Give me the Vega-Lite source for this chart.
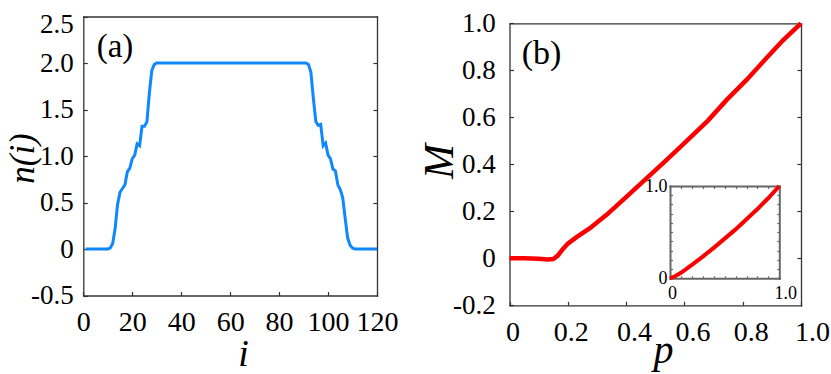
{
  "$schema": "https://vega.github.io/schema/vega-lite/v6.json",
  "width": 831,
  "height": 374,
  "autosize": {"type": "none"},
  "padding": 0,
  "background": "white",
  "config": {
    "view": {"stroke": null},
    "axis": {
      "grid": false,
      "labelFont": "'Liberation Serif', 'DejaVu Serif', serif",
      "titleFont": "'Liberation Serif', 'DejaVu Serif', serif",
      "labelColor": "#000",
      "titleColor": "#000",
      "titleFontWeight": "normal",
      "domainColor": "#333",
      "domainWidth": 1.3,
      "domainCap": "square",
      "tickColor": "#333",
      "tickWidth": 1.2,
      "labelFlush": false,
      "labelOverlap": false,
      "labelBound": false
    }
  },
  "datasets": {
    "dens": [
      {"i": 1, "n": 0}, {"i": 10, "n": 0}, {"i": 11, "n": 0.01}, {"i": 12, "n": 0.06},
      {"i": 13, "n": 0.22}, {"i": 14, "n": 0.48}, {"i": 15, "n": 0.61}, {"i": 16, "n": 0.65},
      {"i": 17, "n": 0.69}, {"i": 18, "n": 0.83}, {"i": 19, "n": 0.87}, {"i": 20, "n": 0.97},
      {"i": 21, "n": 1.01}, {"i": 22, "n": 1.13}, {"i": 23, "n": 1.11}, {"i": 24, "n": 1.32},
      {"i": 25, "n": 1.32}, {"i": 26, "n": 1.37}, {"i": 27, "n": 1.68}, {"i": 28, "n": 1.92},
      {"i": 29, "n": 1.985}, {"i": 30, "n": 2.0}, {"i": 91, "n": 2.0}, {"i": 92, "n": 1.985},
      {"i": 93, "n": 1.9}, {"i": 94, "n": 1.62}, {"i": 95, "n": 1.37}, {"i": 96, "n": 1.33},
      {"i": 97, "n": 1.34}, {"i": 98, "n": 1.11}, {"i": 99, "n": 1.14}, {"i": 100, "n": 1.01},
      {"i": 101, "n": 0.97}, {"i": 102, "n": 0.86}, {"i": 103, "n": 0.84}, {"i": 104, "n": 0.69},
      {"i": 105, "n": 0.64}, {"i": 106, "n": 0.55}, {"i": 107, "n": 0.33}, {"i": 108, "n": 0.12},
      {"i": 109, "n": 0.04}, {"i": 110, "n": 0.01}, {"i": 111, "n": 0}, {"i": 120, "n": 0}
    ],
    "mag": [
      {"p": 0, "M": 0}, {"p": 0.05, "M": 0}, {"p": 0.1, "M": -0.002}, {"p": 0.13, "M": -0.005},
      {"p": 0.15, "M": -0.003}, {"p": 0.165, "M": 0.01}, {"p": 0.18, "M": 0.035}, {"p": 0.2, "M": 0.062},
      {"p": 0.23, "M": 0.09}, {"p": 0.276, "M": 0.128}, {"p": 0.3, "M": 0.152}, {"p": 0.333, "M": 0.185},
      {"p": 0.4, "M": 0.26}, {"p": 0.47, "M": 0.34}, {"p": 0.54, "M": 0.42}, {"p": 0.6, "M": 0.49},
      {"p": 0.68, "M": 0.585}, {"p": 0.745, "M": 0.674}, {"p": 0.814, "M": 0.76}, {"p": 0.88, "M": 0.85},
      {"p": 0.94, "M": 0.93}, {"p": 1.0, "M": 1.0}
    ],
    "ins": [
      {"p": 0, "M": 0}, {"p": 0.05, "M": 0.025}, {"p": 0.1, "M": 0.06}, {"p": 0.2, "M": 0.145},
      {"p": 0.3, "M": 0.235}, {"p": 0.4, "M": 0.33}, {"p": 0.5, "M": 0.43}, {"p": 0.6, "M": 0.53},
      {"p": 0.7, "M": 0.64}, {"p": 0.8, "M": 0.75}, {"p": 0.9, "M": 0.87}, {"p": 1.0, "M": 1.0}
    ],
    "labA": [{"x": 12.95, "y": 2.06, "label": "(a)"}],
    "labB": [{"x": 0.11, "y": 0.827, "label": "(b)"}]
  },
  "resolve": {
    "scale": {"x": "independent", "y": "independent"},
    "axis": {"x": "independent", "y": "independent"}
  },
  "layer": [
    {
      "data": {"name": "dens"},
      "mark": {"type": "line", "color": "#0f87ff", "strokeWidth": 3},
      "encoding": {
        "x": {
          "field": "i", "type": "quantitative",
          "scale": {"domain": [0, 120], "range": [83.3, 377], "nice": false, "zero": false},
          "axis": {
            "orient": "bottom", "offset": -78.5, "values": [0, 20, 40, 60, 80, 100, 120],
            "tickSize": -4, "labelFontSize": 28, "labelBaseline": "alphabetic", "labelPadding": 38.5,
            "title": "i", "titleFontSize": 38, "titleFontStyle": "italic", "titleX": 243, "titleY": 69.5,
            "titleAlign": "center", "titleBaseline": "alphabetic", "titleAngle": 0
          }
        },
        "y": {
          "field": "n", "type": "quantitative",
          "scale": {"domain": [-0.5, 2.5], "range": [295.5, 16.5], "nice": false, "zero": false},
          "axis": {
            "orient": "left", "offset": -83.3, "values": [-0.5, 0, 0.5, 1, 1.5, 2, 2.5],
            "tickSize": -4, "labelFontSize": 27, "labelAlign": "right", "labelBaseline": "middle", "labelPadding": 14,
            "labelExpr": "datum.value == 0 ? '0' : (datum.value < 0 ? '-' + format(-datum.value, '.1f') : format(datum.value, '.1f'))",
            "labelOffset": {"condition": {"test": "datum.value == 2.5", "value": 8}, "value": 0},
            "title": "n(i)", "titleFontSize": 35, "titleFontStyle": "italic", "titleAngle": -90,
            "titleX": -50.3, "titleY": 158, "titleAlign": "center", "titleBaseline": "alphabetic"
          }
        }
      }
    },
    {
      "data": {"name": "labA"},
      "mark": {"type": "text", "font": "'Liberation Serif', 'DejaVu Serif', serif", "fontSize": 33, "align": "center", "baseline": "alphabetic", "color": "#000"},
      "encoding": {
        "x": {
          "field": "x", "type": "quantitative",
          "scale": {"domain": [0, 120], "range": [83.3, 377], "nice": false, "zero": false},
          "axis": {"orient": "top", "offset": -16.5, "ticks": false, "labels": false, "title": null}
        },
        "y": {
          "field": "y", "type": "quantitative",
          "scale": {"domain": [-0.5, 2.5], "range": [295.5, 16.5], "nice": false, "zero": false},
          "axis": {"orient": "right", "offset": -454, "values": [0, 0.5, 1, 1.5, 2], "tickSize": -4, "labels": false, "title": null}
        },
        "text": {"field": "label"}
      }
    },
    {
      "data": {"name": "mag"},
      "mark": {"type": "line", "color": "#fa0000", "strokeWidth": 4.5},
      "encoding": {
        "x": {
          "field": "p", "type": "quantitative",
          "scale": {"domain": [0, 1], "range": [509.5, 801], "nice": false, "zero": false},
          "axis": {
            "orient": "bottom", "offset": -68.7, "values": [0, 0.2, 0.4, 0.6, 0.8, 1],
            "tickSize": -4, "labelFontSize": 28, "labelBaseline": "alphabetic", "labelPadding": 38.7,
            "labelExpr": "datum.value == 0 ? '0' : format(datum.value, '.1f')",
            "labelOffset": {"condition": [{"test": "datum.value == 1", "value": 11}, {"test": "datum.value < 0.3", "value": 3}], "value": 8},
            "title": "p", "titleFontSize": 40, "titleFontStyle": "italic", "titleX": 663, "titleY": 57.2,
            "titleAlign": "center", "titleBaseline": "alphabetic", "titleAngle": 0
          }
        },
        "y": {
          "field": "M", "type": "quantitative",
          "scale": {"domain": [-0.2, 1], "range": [305.3, 23.3], "nice": false, "zero": false},
          "axis": {
            "orient": "left", "offset": -509.5, "values": [-0.2, 0, 0.2, 0.4, 0.6, 0.8, 1],
            "tickSize": -4, "labelFontSize": 27, "labelAlign": "right", "labelBaseline": "middle", "labelPadding": 18.3,
            "labelExpr": "datum.value == 0 ? '0' : (datum.value < 0 ? '-' + format(-datum.value, '.1f') : format(datum.value, '.1f'))",
            "title": "M", "titleFontSize": 42, "titleFontStyle": "italic", "titleAngle": -90,
            "titleX": -57.5, "titleY": 161, "titleAlign": "center", "titleBaseline": "alphabetic"
          }
        }
      }
    },
    {
      "data": {"name": "labB"},
      "mark": {"type": "text", "font": "'Liberation Serif', 'DejaVu Serif', serif", "fontSize": 34, "align": "center", "baseline": "alphabetic", "color": "#000"},
      "encoding": {
        "x": {
          "field": "x", "type": "quantitative",
          "scale": {"domain": [0, 1], "range": [509.5, 801], "nice": false, "zero": false},
          "axis": {"orient": "top", "offset": -23.3, "ticks": false, "labels": false, "title": null}
        },
        "y": {
          "field": "y", "type": "quantitative",
          "scale": {"domain": [-0.2, 1], "range": [305.3, 23.3], "nice": false, "zero": false},
          "axis": {"orient": "right", "offset": -30, "values": [0, 0.2, 0.4, 0.6, 0.8], "tickSize": -4, "labels": false, "title": null}
        },
        "text": {"field": "label"}
      }
    },
    {
      "data": {"name": "ins"},
      "mark": {"type": "line", "color": "#fa0000", "strokeWidth": 4},
      "encoding": {
        "x": {
          "field": "p", "type": "quantitative",
          "scale": {"domain": [0, 1], "range": [670, 779.3], "nice": false, "zero": false},
          "axis": {
            "orient": "bottom", "offset": -95.7, "values": [0, 0.1, 0.2, 0.3, 0.4, 0.5, 0.6, 0.7, 0.8, 0.9, 1],
            "tickSize": -2.5, "domainColor": "#666", "domainWidth": 2, "tickColor": "#666",
            "labelFontSize": 18, "labelBaseline": "alphabetic", "labelPadding": 22.2,
            "labelExpr": "datum.value == 0 ? '0' : (datum.value == 1 ? '1.0' : '')",
            "labelOffset": {"condition": {"test": "datum.value == 1", "value": 6}, "value": 2},
            "title": null
          }
        },
        "y": {
          "field": "M", "type": "quantitative",
          "scale": {"domain": [0, 1], "range": [278.3, 186], "nice": false, "zero": false},
          "axis": {
            "orient": "left", "offset": -670, "values": [0, 0.1, 0.2, 0.3, 0.4, 0.5, 0.6, 0.7, 0.8, 0.9, 1],
            "tickSize": -2.5, "domainColor": "#666", "domainWidth": 2, "tickColor": "#666",
            "labelFontSize": 18, "labelAlign": "right", "labelBaseline": "middle", "labelPadding": 5.5,
            "labelExpr": "datum.value == 0 ? '0' : (datum.value == 1 ? '1.0' : '')",
            "title": null
          }
        }
      }
    },
    {
      "data": {"name": "ins"},
      "mark": {"type": "line", "color": "#fa0000", "strokeWidth": 4, "opacity": 0},
      "encoding": {
        "x": {
          "field": "p", "type": "quantitative",
          "scale": {"domain": [0, 1], "range": [670, 779.3], "nice": false, "zero": false},
          "axis": {
            "orient": "top", "offset": -186, "values": [0, 0.1, 0.2, 0.3, 0.4, 0.5, 0.6, 0.7, 0.8, 0.9, 1],
            "tickSize": -2.5, "domainColor": "#666", "domainWidth": 2, "tickColor": "#666", "labels": false, "title": null
          }
        },
        "y": {
          "field": "M", "type": "quantitative",
          "scale": {"domain": [0, 1], "range": [278.3, 186], "nice": false, "zero": false},
          "axis": {
            "orient": "right", "offset": -51.7, "values": [0, 0.1, 0.2, 0.3, 0.4, 0.5, 0.6, 0.7, 0.8, 0.9, 1],
            "tickSize": -2.5, "domainColor": "#666", "domainWidth": 2, "tickColor": "#666", "labels": false, "title": null
          }
        }
      }
    }
  ]
}
